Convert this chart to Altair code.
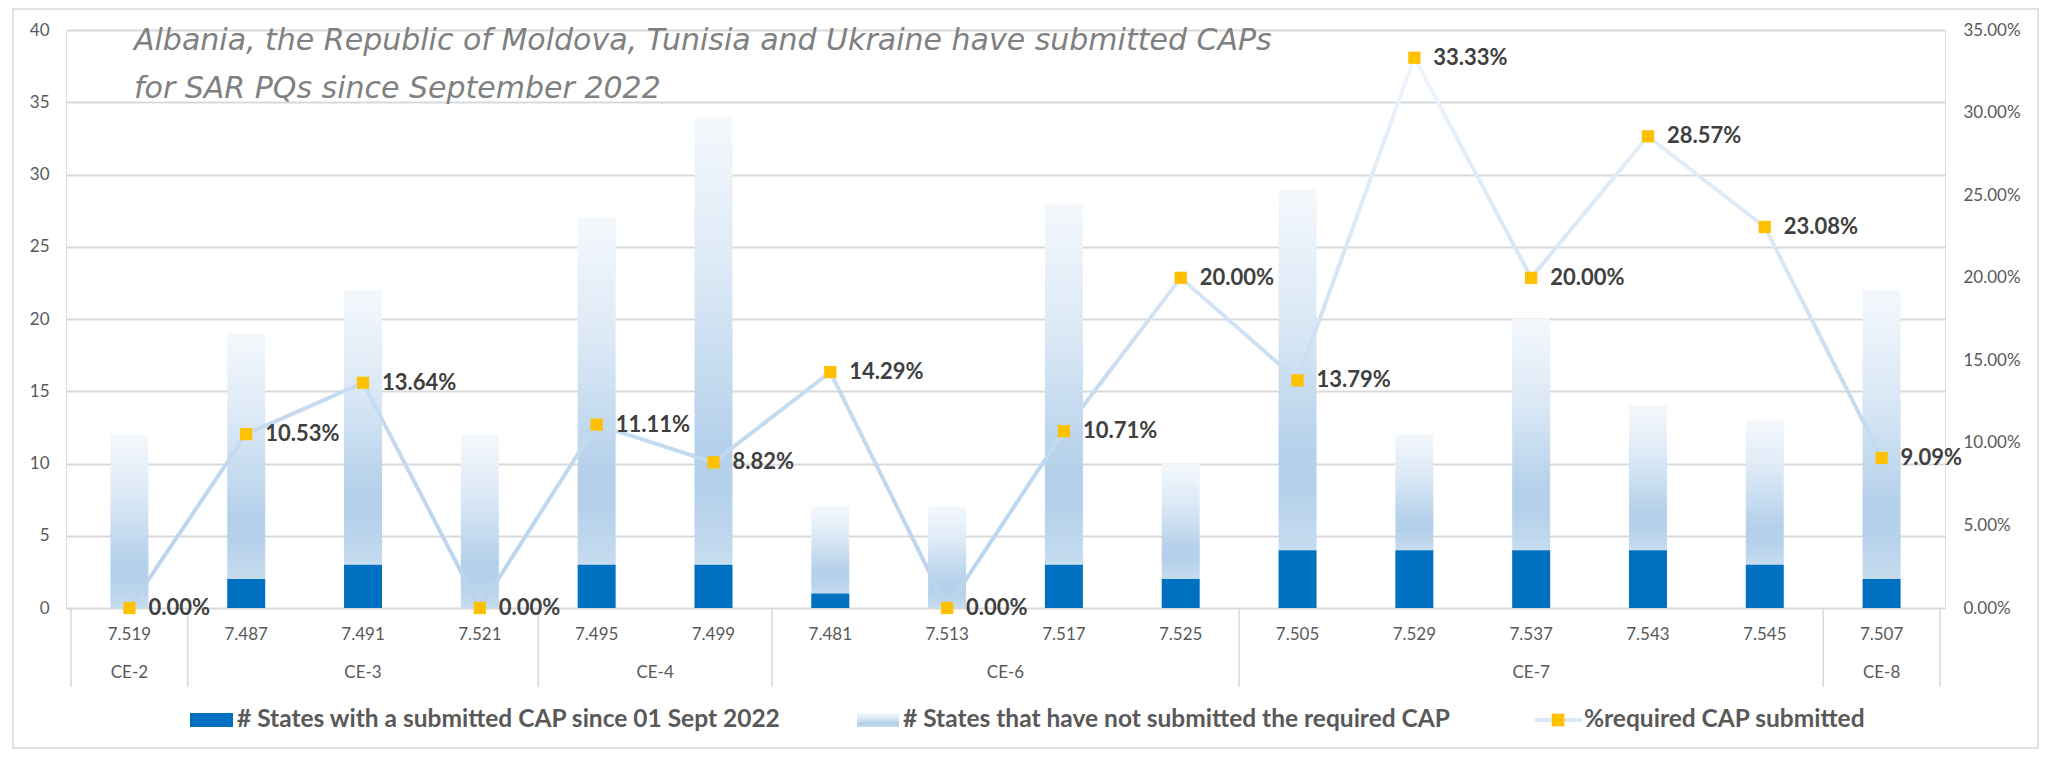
import altair as alt
import pandas as pd

# ---------------- data ----------------
pq_codes = ["7.519", "7.487", "7.491", "7.521", "7.495", "7.499", "7.481", "7.513",
            "7.517", "7.525", "7.505", "7.529", "7.537", "7.543", "7.545", "7.507"]
ce_groups = ["CE-2", "CE-3", "CE-4", "CE-6", "CE-7", "CE-8"]
ce_group_sizes = [1, 3, 2, 4, 5, 1]
states_submitted = [0, 2, 3, 0, 3, 3, 1, 0, 3, 2, 4, 4, 4, 4, 3, 2]
states_not_submitted = [12, 17, 19, 12, 24, 31, 6, 7, 25, 8, 25, 8, 16, 10, 10, 20]
pct_required_submitted = [0.00, 10.53, 13.64, 0.00, 11.11, 8.82, 14.29, 0.00,
                          10.71, 20.00, 13.79, 33.33, 20.00, 28.57, 23.08, 9.09]
left_ticks = [0, 5, 10, 15, 20, 25, 30, 35, 40]
right_ticks = [0.00, 0.05, 0.10, 0.15, 0.20, 0.25, 0.30, 0.35]

series_names = ["# States with a submitted CAP since 01 Sept 2022",
                "# States that have not submitted the required CAP",
                "%required CAP submitted"]
title_lines = ["Albania, the Republic of Moldova, Tunisia and Ukraine have submitted CAPs",
               "for SAR PQs since September 2022"]

# ---------------- tables ----------------
df = pd.DataFrame({
    "idx": list(range(len(pq_codes))),
    "pq": pq_codes,
    "submitted": states_submitted,
    "not_submitted": states_not_submitted,
    "pct": [p / 100 for p in pct_required_submitted],
})
df["total"] = df["submitted"] + df["not_submitted"]

starts, pos = [], 0
for n in ce_group_sizes:
    starts.append(pos)
    pos += n
groups_df = pd.DataFrame({
    "ce": ce_groups,
    "center": [s + (n - 1) / 2 for s, n in zip(starts, ce_group_sizes)],
})
bounds_df = pd.DataFrame({"b": [s - 0.5 for s in starts] + [pos - 0.5]})

# ---------------- styling ----------------
W, H = 1879, 578
FONT = "Lato"
GRID = "#d9d9d9"
DARK = "#0070c0"
MARKER = "#ffc000"
LABEL = "#595959"

bar_grad = alt.Gradient(
    gradient="linear", x1=0, x2=0, y1=0, y2=1,
    stops=[alt.GradientStop(color="#f4f8fc", offset=0),
           alt.GradientStop(color="#dce9f6", offset=0.35),
           alt.GradientStop(color="#b4d0ea", offset=0.74),
           alt.GradientStop(color="#b4d0ea", offset=0.83),
           alt.GradientStop(color="#c6dcf0", offset=1)])
line_grad = alt.Gradient(
    gradient="linear", x1=0, x2=0, y1=0, y2=1,
    stops=[alt.GradientStop(color="#f0f6fc", offset=0),
           alt.GradientStop(color="#e4eef8", offset=0.15),
           alt.GradientStop(color="#d6e6f5", offset=0.4),
           alt.GradientStop(color="#c6dcf0", offset=0.6),
           alt.GradientStop(color="#bad4ec", offset=1)])

xscale = alt.Scale(domain=[-0.5, len(pq_codes) - 0.5], nice=False, zero=False)
X = alt.X("idx:Q", scale=xscale, axis=None)

left_axis = alt.Axis(values=left_ticks, grid=True, gridColor=GRID, gridWidth=2,
                     domain=False, ticks=False, labelPadding=17, labelFont=FONT,
                     labelFontSize=17, labelColor=LABEL, title=None)
right_axis = alt.Axis(orient="right", values=right_ticks, format=".2%",
                      grid=False, domain=False, ticks=False, labelPadding=18,
                      labelFont=FONT, labelFontSize=17, labelColor=LABEL, title=None)
yl = alt.Scale(domain=[0, 40], nice=False)
yr = alt.Scale(domain=[0, 0.3501], nice=False)

base = alt.Chart(df)

dark_bars = base.mark_bar(color=DARK, size=38).encode(
    x=X, y=alt.Y("submitted:Q", scale=yl, axis=left_axis))
light_bars = base.mark_bar(color=bar_grad, size=38).encode(
    x=X, y=alt.Y("submitted:Q", scale=yl, axis=left_axis), y2="total:Q")

pq_labels = base.mark_text(font=FONT, fontSize=17, color=LABEL, baseline="middle").encode(
    x=X, y=alt.value(H + 27), text="pq:N")
ce_labels = alt.Chart(groups_df).mark_text(font=FONT, fontSize=17, color=LABEL,
                                           baseline="middle").encode(
    x=alt.X("center:Q", scale=xscale, axis=None), y=alt.value(H + 65), text="ce:N")
separators = alt.Chart(bounds_df).mark_rule(color=GRID, strokeWidth=1.5).encode(
    x=alt.X("b:Q", scale=xscale, axis=None), y=alt.value(H), y2=alt.value(H + 79))

one = alt.Data(values=[{"k": 1}])
LY = 690
leg_sw1 = alt.Chart(one).mark_rect(color=DARK).encode(
    x=alt.value(124), x2=alt.value(167), y=alt.value(LY - 7), y2=alt.value(LY + 7))
leg_sw2 = alt.Chart(one).mark_rect(color=bar_grad).encode(
    x=alt.value(791), x2=alt.value(833), y=alt.value(LY - 7), y2=alt.value(LY + 7))
leg_line = alt.Chart(one).mark_rule(color="#dae8f5", strokeWidth=4).encode(
    x=alt.value(1469), x2=alt.value(1516), y=alt.value(LY))
leg_mark = alt.Chart(one).mark_point(shape="square", filled=True, size=160,
                                     color=MARKER, opacity=1).encode(
    x=alt.value(1492), y=alt.value(LY))
leg_txt = []
for xpos, name in zip([171, 837, 1518], series_names):
    leg_txt.append(alt.Chart(one).mark_text(font=FONT, fontSize=24.5, fontWeight="bold",
                                            color="#595959", align="left",
                                            baseline="middle").encode(
        x=alt.value(xpos), y=alt.value(LY), text=alt.value(name)))

title = alt.Chart(one).mark_text(font="DejaVu Sans", fontSize=30, fontStyle="italic",
                                 color="#808080", align="left", baseline="alphabetic",
                                 lineHeight=48).encode(
    x=alt.value(68), y=alt.value(20), text=alt.value(title_lines))

border = alt.Chart(one).mark_rect(fillOpacity=0, stroke=GRID, strokeWidth=1.5).encode(
    x=alt.value(-53), x2=alt.value(1972), y=alt.value(-21), y2=alt.value(718))

left_layer = alt.layer(border, light_bars, dark_bars, pq_labels, ce_labels, separators,
                       leg_sw1, leg_sw2, leg_line, leg_mark, *leg_txt, title)

pct_line = base.mark_line(stroke=line_grad, strokeWidth=4).encode(
    x=X, y=alt.Y("pct:Q", scale=yr, axis=right_axis))
pct_pts = base.mark_point(shape="square", filled=True, size=150, color=MARKER,
                          opacity=1).encode(
    x=X, y=alt.Y("pct:Q", scale=yr, axis=right_axis))
pct_txt = base.mark_text(font=FONT, fontSize=22, fontWeight="bold", color="#404040",
                         align="left", baseline="middle", dx=19).encode(
    x=X, y=alt.Y("pct:Q", scale=yr, axis=right_axis),
    text=alt.Text("pct:Q", format=".2%"))
right_layer = alt.layer(pct_line, pct_pts, pct_txt)

chart = alt.layer(left_layer, right_layer).resolve_scale(y="independent").properties(
    width=W, height=H,
    autosize=alt.AutoSizeParams(type="none"),
    padding={"left": 58, "top": 22, "right": 95, "bottom": 141},
).configure_view(stroke=None).configure(background="white")

chart.save("out.html", embed_options={"renderer": "svg", "actions": False})
